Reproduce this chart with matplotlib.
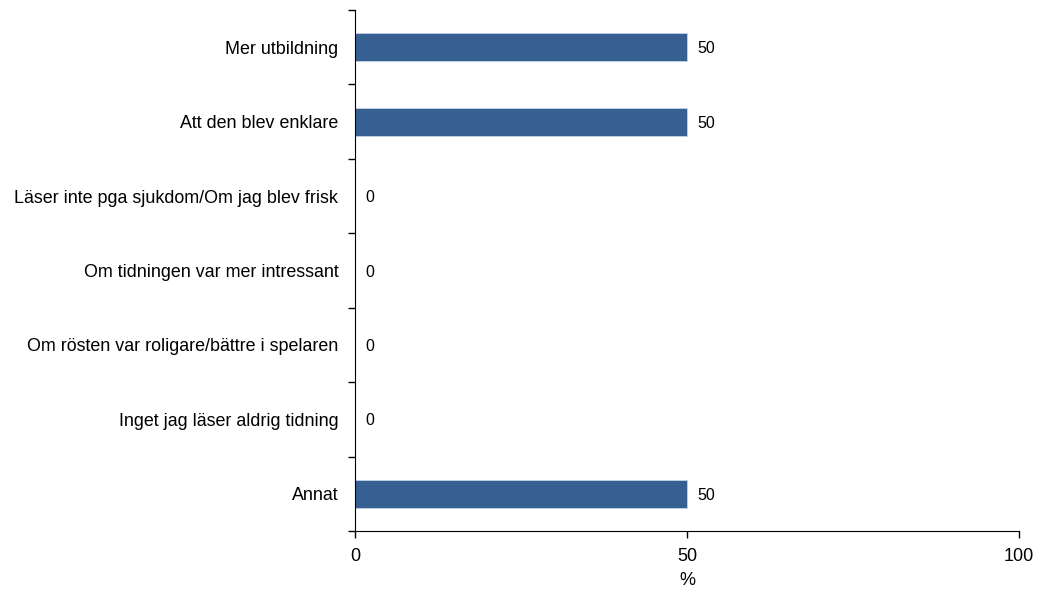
import numpy as np
import matplotlib
matplotlib.use('Agg')
import matplotlib.pyplot as plt
from matplotlib.ticker import FixedLocator

plt.rcParams['font.family'] = ['Liberation Sans', 'DejaVu Sans']

# kategorier uppifrån och ned
categories = ['Mer utbildning', 'Att den blev enklare',
              'Läser inte pga sjukdom/Om jag blev frisk',
              'Om tidningen var mer intressant',
              'Om rösten var roligare/bättre i spelaren',
              'Inget jag läser aldrig tidning', 'Annat']
values = [50, 50, 0, 0, 0, 0, 50]
xticks = [0, 50, 100]

fig = plt.figure(figsize=(10.44, 5.9), dpi=100)
ax = fig.add_axes([0.340, 0.100, 0.636, 0.883])

n = len(categories)
y = np.arange(n)
ax.barh(y, values, height=0.38, color='#376092', edgecolor='#c5d3e6', linewidth=0.6)

for yi, v in zip(y, values):
  ax.text(v + 1.5, yi + 0.02, str(v), va='center', ha='left', fontsize=11.5)

ax.set_ylim(n - 0.5, -0.5)
ax.set_xlim(0, 100)
ax.set_yticks(y)
ax.set_yticklabels(categories, fontsize=12.9)
ax.yaxis.set_minor_locator(FixedLocator(np.arange(-0.5, n, 1)))
ax.tick_params(axis='y', which='major', length=0, pad=12)
ax.tick_params(axis='y', which='minor', length=5, direction='out', width=1)
ax.set_xticks(xticks)
ax.set_xticklabels([str(t) for t in xticks], fontsize=13)
ax.tick_params(axis='x', length=5, direction='out', width=1, pad=7)
ax.set_xlabel('%', fontsize=13, labelpad=5)

ax.spines['top'].set_visible(False)
ax.spines['right'].set_visible(False)

fig.savefig('out.png', dpi=100)
